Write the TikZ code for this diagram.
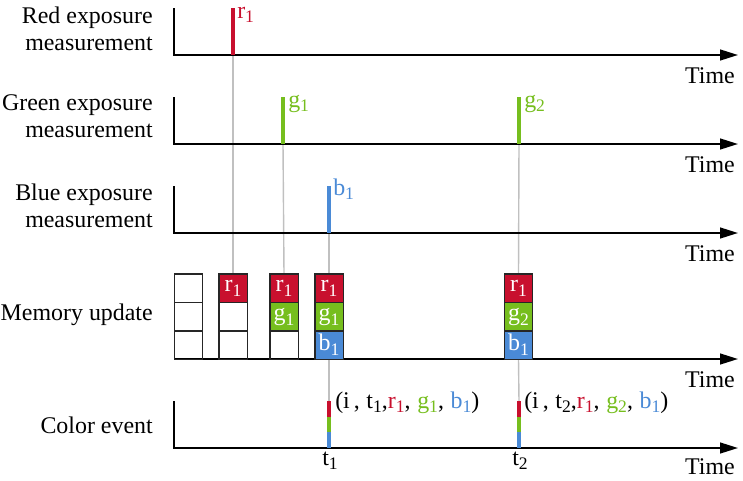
\documentclass[tikz,border=0pt]{standalone}
\usepackage{fontspec}
\setmainfont{Liberation Serif}
\usetikzlibrary{arrows.meta,positioning,backgrounds}
\definecolor{cred}{RGB}{200,16,46}
\definecolor{cgreen}{RGB}{118,190,30}
\definecolor{cblue}{RGB}{74,138,214}
\definecolor{cguide}{RGB}{192,192,192}
\newcommand{\lowidx}[1]{\raisebox{-3.5pt}{\fontsize{12.5}{12.5}\selectfont #1}}
\begin{document}
\begin{tikzpicture}[
  x=0.025cm, y=-0.025cm,
  font=\fontsize{17}{19.2}\selectfont,
  axis/.style={line width=1.4pt, -{Triangle[length=0.45cm, width=0.27cm]}},
  guide/.style={cguide, line width=1pt},
  bar/.style={minimum width=0.1cm, minimum height=1.175cm, inner sep=0pt, outer sep=0pt, anchor=south},
  evbar/.style={minimum width=0.1cm, minimum height=0.39cm, inner sep=0pt, outer sep=0pt},
  cell/.style={draw=black!85, line width=1pt, minimum width=0.71cm, minimum height=0.71cm, inner sep=0pt, outer sep=0pt, text=white},
  rcell/.style={cell, fill=cred},
  gcell/.style={cell, fill=cgreen},
  bcell/.style={cell, fill=cblue},
  rowlab/.style={anchor=east, align=right, inner sep=0pt},
  timelab/.style={anchor=base east, inner sep=0pt},
  evlab/.style={anchor=base west, inner sep=0pt}
]
  \useasboundingbox (0,0) rectangle (743,480);
  % achsen
  \coordinate (top1) at (174,8);   \coordinate (o1) at (174,55);  \coordinate (end1) at (738,55);
  \coordinate (top2) at (174,97);  \coordinate (o2) at (174,144); \coordinate (end2) at (738,144);
  \coordinate (top3) at (174,186); \coordinate (o3) at (174,233); \coordinate (end3) at (738,233);
  \coordinate (o4) at (174,359); \coordinate (end4) at (738,359);
  \coordinate (top5) at (174,401); \coordinate (o5) at (174,448); \coordinate (end5) at (738,448);
  \draw[axis] (top1) -- (o1) -- (end1);
  \draw[axis] (top2) -- (o2) -- (end2);
  \draw[axis] (top3) -- (o3) -- (end3);
  \draw[axis] (o4) -- (end4);
  \draw[axis] (top5) -- (o5) -- (end5);
  % zeilen
  \node[rowlab] (lred)   at (153,29)  {Red exposure\\ measurement};
  \node[rowlab] (lgreen) at (153,116) {Green exposure\\ measurement};
  \node[rowlab] (lblue)  at (153,206) {Blue exposure\\ measurement};
  \node[rowlab] (lmem)   at (153,315) {Memory update};
  \node[rowlab] (lev)    at (153,425) {Color event};
  \node[timelab] (time1) at (735,83)  {Time};
  \node[timelab] (time2) at (735,172) {Time};
  \node[timelab] (time3) at (735,261) {Time};
  \node[timelab] (time4) at (735,387) {Time};
  \node[timelab] (time5) at (735,474) {Time};
  % belichtungen
  \node[bar, fill=cred]   (br1) at (233,55)  {};
  \node[bar, fill=cgreen] (bg1) at (283,144) {};
  \node[bar, fill=cblue]  (bb1) at (329,233) {};
  \node[bar, fill=cgreen] (bg2) at (519,144) {};
  \node[evlab, text=cred]   (nr1) at (237,18)  {r\lowidx{1}};
  \node[evlab, text=cgreen] (ng1) at (288,107) {g\lowidx{1}};
  \node[evlab, text=cblue]  (nb1) at (333,195) {b\lowidx{1}};
  \node[evlab, text=cgreen] (ng2) at (524,107) {g\lowidx{2}};
  % speicher
  \node[cell, anchor=north] (c1a) at (188.5,274) {};
  \node[cell, below=0pt of c1a] (c1b) {};
  \node[cell, below=0pt of c1b] (c1c) {};
  \node[rcell, anchor=north] (c2a) at (233,274) {r\lowidx{1}};
  \node[cell, below=0pt of c2a] (c2b) {};
  \node[cell, below=0pt of c2b] (c2c) {};
  \node[rcell, anchor=north] (c3a) at (284,274) {r\lowidx{1}};
  \node[gcell, below=0pt of c3a] (c3b) {g\lowidx{1}};
  \node[cell, below=0pt of c3b] (c3c) {};
  \node[rcell, anchor=north] (c4a) at (329,274) {r\lowidx{1}};
  \node[gcell, below=0pt of c4a] (c4b) {g\lowidx{1}};
  \node[bcell, below=0pt of c4b] (c4c) {b\lowidx{1}};
  \node[rcell, anchor=north] (c5a) at (518.5,274) {r\lowidx{1}};
  \node[gcell, below=0pt of c5a] (c5b) {g\lowidx{2}};
  \node[bcell, below=0pt of c5b] (c5c) {b\lowidx{1}};
  % ereignisse
  \node[evbar, fill=cblue, anchor=south] (e1b) at (329,448) {};
  \node[evbar, fill=cgreen, above=0pt of e1b] (e1g) {};
  \node[evbar, fill=cred, above=0pt of e1g] (e1r) {};
  \node[evbar, fill=cblue, anchor=south] (e2b) at (519,448) {};
  \node[evbar, fill=cgreen, above=0pt of e2b] (e2g) {};
  \node[evbar, fill=cred, above=0pt of e2g] (e2r) {};
  \node[evlab] (tup1) at (335,408) {(i\,,\;t\lowidx{1},\textcolor{cred}{r\lowidx{1}},\;\textcolor{cgreen}{g\lowidx{1}},\;\textcolor{cblue}{b\lowidx{1}})};
  \node[evlab] (tup2) at (524,408) {(i\,,\;t\lowidx{2},\textcolor{cred}{r\lowidx{1}},\;\textcolor{cgreen}{g\lowidx{2}},\;\textcolor{cblue}{b\lowidx{1}})};
  \node[anchor=base] (t1) at (330,465) {t\lowidx{1}};
  \node[anchor=base] (t2) at (520,465) {t\lowidx{2}};
  % hilfslinien
  \begin{scope}[on background layer]
    \draw[guide] (br1.south) -- (c2a.north);
    \draw[guide] (bg1.south) -- (c3a.north);
    \draw[guide] (bb1.south) -- (c4a.north);
    \draw[guide] (bg2.south) -- (c5a.north);
    \draw[guide] (c4c.south) -- (e1r.north);
    \draw[guide] (c5c.south) -- (e2r.north);
  \end{scope}
\end{tikzpicture}
\end{document}
